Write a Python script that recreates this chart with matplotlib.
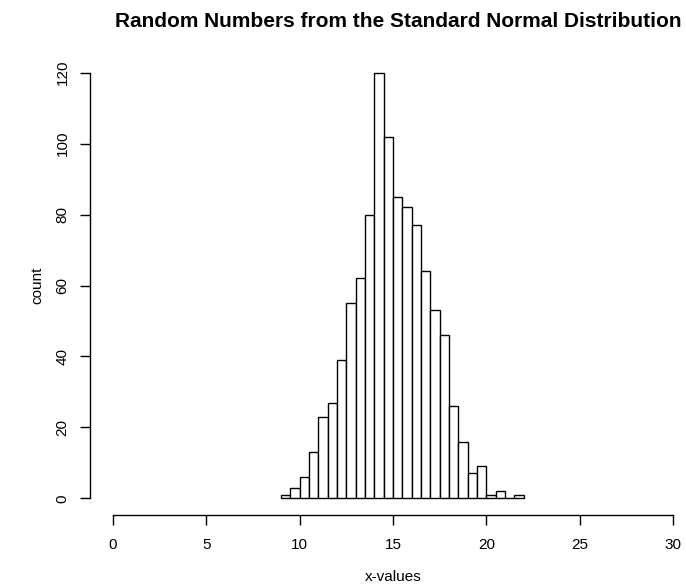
import numpy as np
import matplotlib
matplotlib.use("Agg")
import matplotlib.pyplot as plt

# histogram counts, bins of width 0.5 from 9 to 22
bin_edges = [9.0, 9.5, 10.0, 10.5, 11.0, 11.5, 12.0, 12.5, 13.0, 13.5, 14.0, 14.5, 15.0,
             15.5, 16.0, 16.5, 17.0, 17.5, 18.0, 18.5, 19.0, 19.5, 20.0, 20.5, 21.0, 21.5, 22.0]
counts = [1, 3, 6, 13, 23, 27, 39, 55, 62, 80, 120, 102, 85,
          82, 77, 64, 53, 46, 26, 16, 7, 9, 1, 2, 0, 1]

x_ticks = [0, 5, 10, 15, 20, 25, 30]
y_ticks = [0, 20, 40, 60, 80, 100, 120]

plt.rcParams['font.family'] = ['Liberation Sans', 'DejaVu Sans']

fig = plt.figure(figsize=(6.86, 5.87), dpi=100)
ax = fig.add_axes([0.1316, 0.1221, 0.8825, 0.783])

lefts = np.array(bin_edges[:-1])
widths = np.diff(bin_edges)
ax.bar(lefts, counts, width=widths, align='edge', color='white',
       edgecolor='black', linewidth=1.0)

# R style: 4% padding round the data range
ax.set_xlim(-1.2, 31.2)
ax.set_ylim(-4.8, 124.8)

for s in ['top', 'right']:
    ax.spines[s].set_visible(False)
ax.spines['left'].set_bounds(0, 120)
ax.spines['bottom'].set_bounds(0, 30)
ax.spines['left'].set_linewidth(1.0)
ax.spines['bottom'].set_linewidth(1.0)

ax.set_xticks(x_ticks)
ax.set_yticks(y_ticks)
ax.tick_params(axis='both', direction='out', length=7, width=1.0, labelsize=11)
ax.tick_params(axis='x', pad=9)
ax.tick_params(axis='y', pad=8)
for lab in ax.get_yticklabels():
    lab.set_rotation(90)
    lab.set_va('center')

ax.set_xlabel('x-values', fontsize=11, va='center')
ax.xaxis.set_label_coords(0.5, -(577 - 515.3) / 459.6)
ax.set_ylabel('count', fontsize=11, va='center')
ax.yaxis.set_label_coords(-(90.3 - 37) / 605.4, 0.5)

fig.text(398 / 686, 1 - 27.3 / 587, 'Random Numbers from the Standard Normal Distribution',
         ha='center', va='baseline', fontsize=15, fontweight='bold')

fig.savefig('out.png', dpi=100)
